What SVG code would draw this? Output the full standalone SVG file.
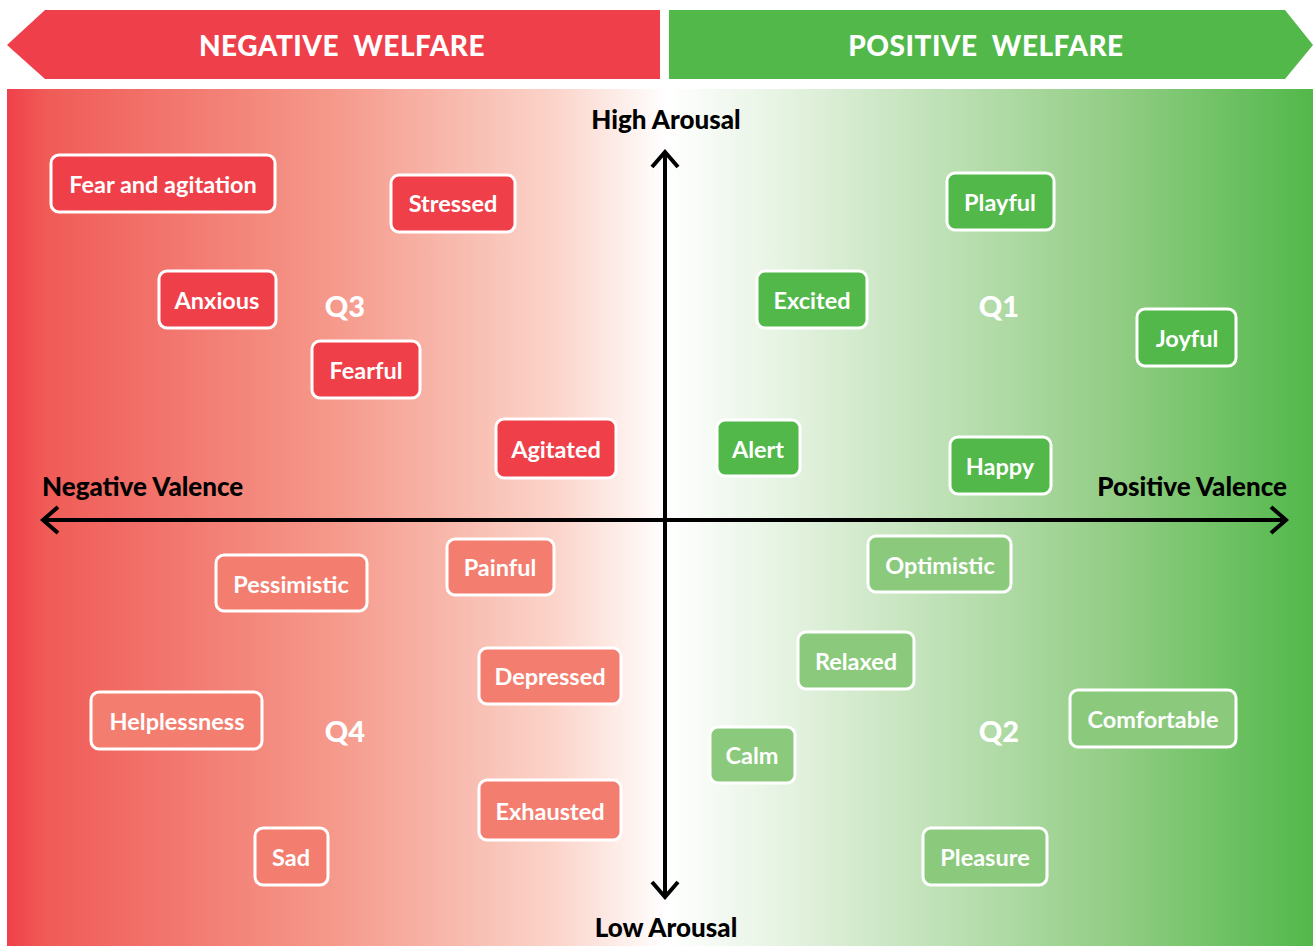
<svg xmlns="http://www.w3.org/2000/svg" width="1313" height="946" viewBox="0 0 1313 946">
<defs>
<linearGradient id="bg" x1="7" y1="0" x2="1313" y2="0" gradientUnits="userSpaceOnUse">
<stop offset="0" stop-color="#EF404A"/>
<stop offset="0.03" stop-color="#F05B57"/>
<stop offset="0.25" stop-color="#F5998B"/>
<stop offset="0.42" stop-color="#FBD4CA"/>
<stop offset="0.505" stop-color="#FFFFFF"/>
<stop offset="0.6" stop-color="#E4F2E0"/>
<stop offset="0.72" stop-color="#BDE0B4"/>
<stop offset="0.85" stop-color="#92CD84"/>
<stop offset="1" stop-color="#52B84A"/>
</linearGradient>
<marker id="chev" viewBox="0 0 20 30" refX="17" refY="15" markerWidth="20" markerHeight="30" markerUnits="userSpaceOnUse" orient="auto-start-reverse">
<path d="M2,2 L17,15 L2,28" fill="none" stroke="#000" stroke-width="4"/>
</marker>
</defs>
<style>
.node rect{stroke:#fff;stroke-width:3}
.r1 rect{fill:#EF404A}
.r2 rect{fill:#F37E70}
.g1 rect{fill:#52B84A}
.g2 rect{fill:#8BCA7C}
.node text{font-family:Lato,"Liberation Sans",sans-serif;font-weight:700;font-size:23.5px;fill:#fff;text-anchor:middle}
.ax{font-family:Lato,"Liberation Sans",sans-serif;font-weight:900;font-size:26px;fill:#000}
.q{font-family:Lato,"Liberation Sans",sans-serif;font-weight:900;font-size:29px;fill:#fff;text-anchor:middle}
.hd{font-family:Lato,"Liberation Sans",sans-serif;font-weight:900;font-size:28px;fill:#fff;text-anchor:middle;letter-spacing:0.5px}
</style>
<rect width="1313" height="946" fill="#fff"/>
<g id="banner-negative">
<polygon points="7,45 45,10 660,10 660,79 45,79" fill="#EF3F4B"/>
<text class="hd" x="342" y="56" xml:space="preserve">NEGATIVE  WELFARE</text>
</g>
<g id="banner-positive">
<polygon points="669,10 1285,10 1313,45 1285,79 669,79" fill="#52B84A"/>
<text class="hd" x="986" y="56" xml:space="preserve">POSITIVE  WELFARE</text>
</g>
<rect id="panel" x="7" y="89" width="1306" height="857" fill="url(#bg)"/>
<g id="connectors">
<line x1="43" y1="520" x2="1286" y2="520" stroke="#000" stroke-width="4" marker-start="url(#chev)" marker-end="url(#chev)"/>
<line x1="665" y1="152" x2="665" y2="897" stroke="#000" stroke-width="4" marker-start="url(#chev)" marker-end="url(#chev)"/>
</g>
<g id="axis-labels">
<text class="ax" x="666" y="129" text-anchor="middle">High Arousal</text>
<text class="ax" x="666" y="937" text-anchor="middle">Low Arousal</text>
<text class="ax" x="42" y="496">Negative Valence</text>
<text class="ax" x="1287" y="496" text-anchor="end">Positive Valence</text>
</g>
<g id="quadrants">
<text class="q" x="345" y="317">Q3</text>
<text class="q" x="999" y="317">Q1</text>
<text class="q" x="345" y="742">Q4</text>
<text class="q" x="999" y="742">Q2</text>
</g>
<g id="n-fear" class="node r1"><rect x="51" y="155" width="224" height="57" rx="8"/><text x="163" y="193">Fear and agitation</text></g>
<g id="n-stressed" class="node r1"><rect x="391" y="175" width="124" height="57" rx="8"/><text x="453" y="212">Stressed</text></g>
<g id="n-anxious" class="node r1"><rect x="159" y="271" width="117" height="57" rx="8"/><text x="217" y="309">Anxious</text></g>
<g id="n-fearful" class="node r1"><rect x="312" y="341" width="108" height="57" rx="8"/><text x="366" y="379">Fearful</text></g>
<g id="n-agitated" class="node r1"><rect x="496" y="419" width="120" height="59" rx="8"/><text x="556" y="458">Agitated</text></g>
<g id="n-pessimistic" class="node r2"><rect x="216" y="555" width="151" height="56" rx="8"/><text x="291" y="593">Pessimistic</text></g>
<g id="n-painful" class="node r2"><rect x="447" y="539" width="107" height="56" rx="8"/><text x="500" y="576">Painful</text></g>
<g id="n-depressed" class="node r2"><rect x="479" y="648" width="142" height="56" rx="8"/><text x="550" y="685">Depressed</text></g>
<g id="n-helplessness" class="node r2"><rect x="91" y="692" width="171" height="57" rx="8"/><text x="177" y="730">Helplessness</text></g>
<g id="n-exhausted" class="node r2"><rect x="479" y="780" width="142" height="60" rx="8"/><text x="550" y="820">Exhausted</text></g>
<g id="n-sad" class="node r2"><rect x="255" y="828" width="73" height="57" rx="8"/><text x="291" y="866">Sad</text></g>
<g id="n-playful" class="node g1"><rect x="947" y="173" width="107" height="57" rx="8"/><text x="1000" y="211">Playful</text></g>
<g id="n-excited" class="node g1"><rect x="757" y="271" width="110" height="57" rx="8"/><text x="812" y="309">Excited</text></g>
<g id="n-joyful" class="node g1"><rect x="1137" y="309" width="99" height="57" rx="8"/><text x="1187" y="347">Joyful</text></g>
<g id="n-alert" class="node g1"><rect x="717" y="420" width="83" height="56" rx="8"/><text x="758" y="458">Alert</text></g>
<g id="n-happy" class="node g1"><rect x="950" y="437" width="101" height="57" rx="8"/><text x="1000" y="475">Happy</text></g>
<g id="n-optimistic" class="node g2"><rect x="868" y="536" width="143" height="56" rx="8"/><text x="940" y="574">Optimistic</text></g>
<g id="n-relaxed" class="node g2"><rect x="798" y="632" width="116" height="57" rx="8"/><text x="856" y="670">Relaxed</text></g>
<g id="n-comfortable" class="node g2"><rect x="1070" y="690" width="166" height="57" rx="8"/><text x="1153" y="728">Comfortable</text></g>
<g id="n-calm" class="node g2"><rect x="710" y="727" width="85" height="56" rx="8"/><text x="752" y="764">Calm</text></g>
<g id="n-pleasure" class="node g2"><rect x="923" y="828" width="124" height="57" rx="8"/><text x="985" y="866">Pleasure</text></g>
</svg>
